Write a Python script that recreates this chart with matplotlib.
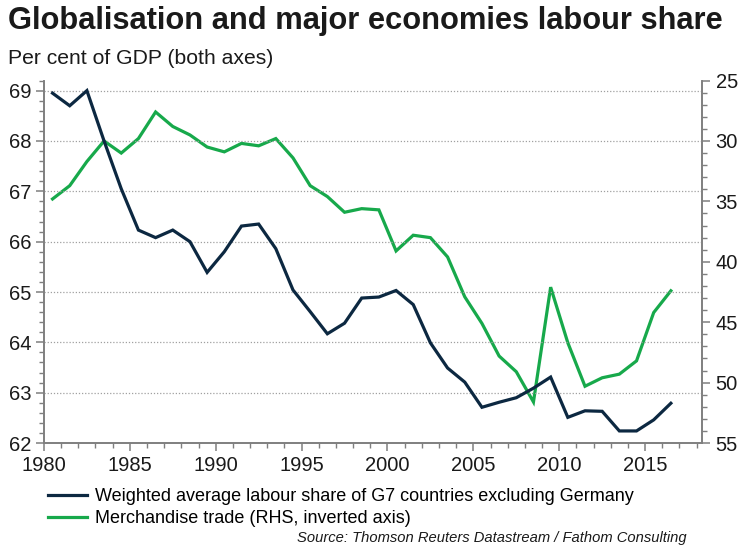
import matplotlib
matplotlib.use('Agg')
import matplotlib.pyplot as plt
from matplotlib.ticker import MultipleLocator

plt.rcParams['font.family'] = ['Liberation Sans', 'DejaVu Sans']

# Annual observations, plotted at mid-year
years = [y + 0.5 for y in range(1980, 2017)]

labour_share = [68.95, 68.70, 69.00, 68.00, 67.05, 66.23, 66.08, 66.23, 66.00, 65.39,
                65.80, 66.31, 66.35, 65.86, 65.04, 64.61, 64.17, 64.38, 64.88, 64.90,
                65.03, 64.75, 63.99, 63.49, 63.21, 62.71, 62.81, 62.90, 63.09, 63.31,
                62.51, 62.64, 62.63, 62.24, 62.24, 62.46, 62.79]

merch_trade = [34.8, 33.7, 31.7, 30.0, 31.0, 29.8, 27.6, 28.8, 29.5, 30.5,
               30.9, 30.2, 30.4, 29.8, 31.4, 33.7, 34.6, 35.9, 35.6, 35.7,
               39.1, 37.8, 38.0, 39.6, 42.9, 45.1, 47.8, 49.1, 51.6, 42.1,
               46.7, 50.3, 49.6, 49.3, 48.2, 44.2, 42.4]

labels = ['Weighted average labour share of G7 countries excluding Germany',
          'Merchandise trade (RHS, inverted axis)']

navy = '#0c2841'
green = '#17a94b'
grey = '#7f7f7f'
text_col = '#1a1a1a'

fig = plt.figure(figsize=(7.45, 5.5), dpi=100)
ax = fig.add_axes([0.059, 0.1945, 0.883, 0.659])
ax2 = ax.twinx()

l1, = ax.plot(years, labour_share, color=navy, lw=2.3, solid_joinstyle='miter')
l2, = ax2.plot(years, merch_trade, color=green, lw=2.3, solid_joinstyle='miter')
ax.set_zorder(ax2.get_zorder() + 1)
ax.patch.set_visible(False)

ax.set_xlim(1980, 2018.3)
ax.set_ylim(62, 69.2)
ax2.set_ylim(55, 25)

ax.xaxis.set_major_locator(MultipleLocator(5))
ax.xaxis.set_minor_locator(MultipleLocator(1))
ax.yaxis.set_major_locator(MultipleLocator(1))
ax.yaxis.set_minor_locator(MultipleLocator(0.2))
ax2.yaxis.set_major_locator(MultipleLocator(5))
ax2.yaxis.set_minor_locator(MultipleLocator(1))

# dotted gridlines at the left-axis majors (not at the bottom)
for v in range(63, 70):
    ax.axhline(v, color='#a0a0a0', lw=0.9, ls=(0, (1, 1.5)), zorder=0)

for a in (ax, ax2):
    a.spines['top'].set_visible(False)
    for s in ('left', 'right', 'bottom'):
        a.spines[s].set_color(grey)
        a.spines[s].set_linewidth(1.2)
    a.tick_params(which='major', length=6, width=1.1, color=grey,
                  labelsize=14.5, labelcolor=text_col, direction='out')
    a.tick_params(which='minor', length=3.5, width=1.0, color=grey, direction='out')
ax.tick_params(axis='y', pad=3)
ax2.tick_params(axis='y', pad=4)

fig.text(0.011, 0.962, 'Globalisation and major economies labour share',
         fontsize=22.2, fontweight='bold', color=text_col, va='center')
fig.text(0.011, 0.893, 'Per cent of GDP (both axes)',
         fontsize=15.2, color=text_col, va='center')

fig.legend([l1, l2], labels, loc='upper left', bbox_to_anchor=(0.064, 0.113),
           frameon=False, fontsize=13, handlelength=2.2, handletextpad=0.4,
           labelspacing=0.3, borderpad=0, borderaxespad=0)

fig.text(0.921, 0.022, 'Source: Thomson Reuters Datastream / Fathom Consulting',
         fontsize=10.6, style='italic', color=text_col, ha='right', va='center')

fig.savefig('out.png', dpi=100)
